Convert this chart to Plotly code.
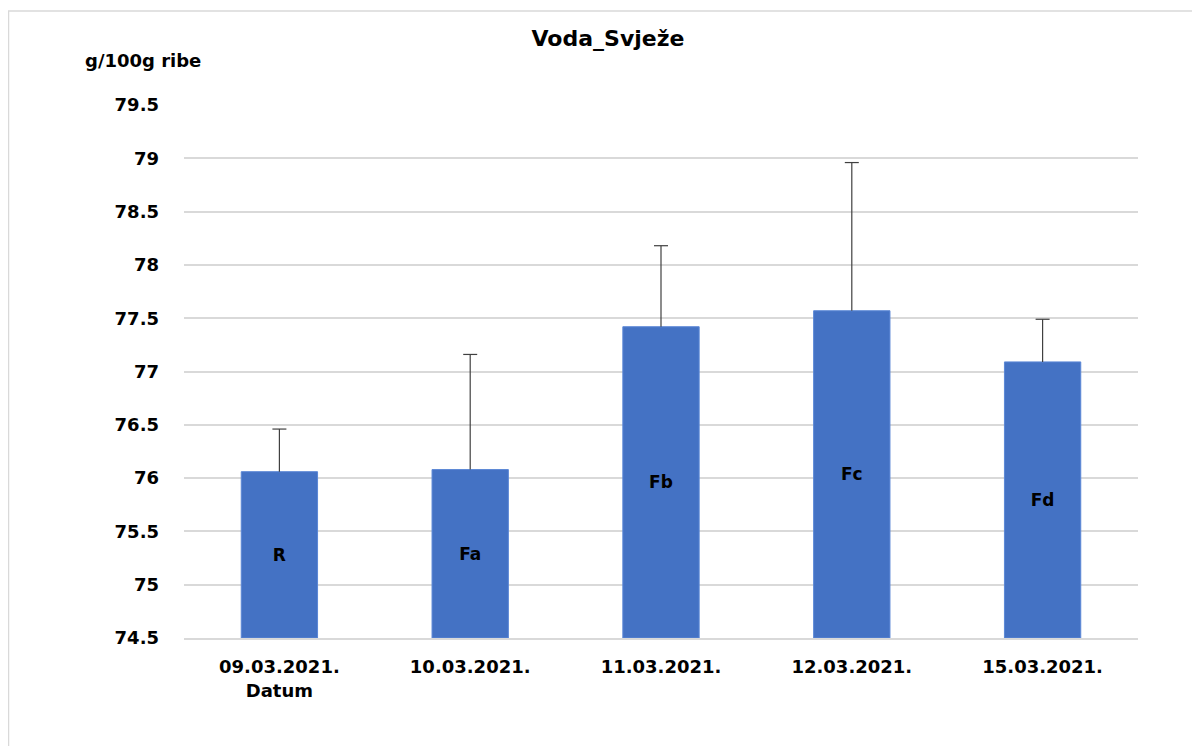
import plotly.graph_objects as go

categories = ["09.03.2021.<br>Datum", "10.03.2021.", "11.03.2021.", "12.03.2021.", "15.03.2021."]
values = [76.06, 76.08, 77.42, 77.57, 77.09]
errors_plus = [0.40, 1.08, 0.76, 1.39, 0.40]
bar_labels = ["R", "Fa", "Fb", "Fc", "Fd"]
y_ticks = [74.5, 75, 75.5, 76, 76.5, 77, 77.5, 78, 78.5, 79, 79.5]
y_tick_text = ["74.5", "75", "75.5", "76", "76.5", "77", "77.5", "78", "78.5", "79", "79.5"]
axis_base = 74.5

FONT = "DejaVu Sans"
OFF = 8  # page body margin offset

L, T, W, H = 184 - OFF, 105 - OFF, 954, 533
R = 1200 - L - W
B = 746 - T - H

fig = go.Figure()
fig.add_trace(go.Bar(
    x=categories,
    y=[v - axis_base for v in values],
    base=axis_base,
    marker=dict(color="#4472C4", line=dict(color="#5B87D6", width=1)),
    text=bar_labels,
    textposition="inside",
    insidetextanchor="middle",
    textangle=0,
    textfont=dict(family=FONT, size=17, color="black", weight="bold"),
    error_y=dict(type="data", symmetric=False, array=errors_plus,
                 arrayminus=[0] * len(values), color="#404040", thickness=1.2, width=0),
    hoverinfo="skip",
))
# caps on top of the error bars only
fig.add_trace(go.Scatter(
    x=categories,
    y=[v + e for v, e in zip(values, errors_plus)],
    mode="markers",
    marker=dict(symbol="line-ew", size=10, line=dict(color="#404040", width=1.2)),
    hoverinfo="skip",
))

fig.update_layout(
    width=1200, height=746,
    margin=dict(l=L, r=R, t=T, b=B),
    paper_bgcolor="white", plot_bgcolor="white",
    bargap=0.6,
    showlegend=False,
    title=dict(text="<b>Voda_Svježe</b>", x=(608 - OFF) / 1200, xanchor="center",
               y=1 - (38 - OFF) / 746, yanchor="middle",
               font=dict(family=FONT, size=22, color="black")),
    font=dict(family=FONT, color="black"),
)

fig.update_yaxes(
    range=[74.5, 79.5],
    tickvals=y_ticks, ticktext=["<b>%s</b>" % t for t in y_tick_text],
    tickfont=dict(family=FONT, size=18, color="black"),
    showgrid=True, gridcolor="#D9D9D9", gridwidth=1.5,
    zeroline=False, showline=False, ticks="",
    ticklabelstandoff=24,
)
fig.update_xaxes(
    tickvals=categories,
    ticktext=["<b>%s</b>" % c for c in categories],
    tickfont=dict(family=FONT, size=18, color="black"),
    showline=True, linecolor="#D9D9D9", linewidth=1.5,
    ticks="", ticklabelstandoff=12,
)

fig.add_annotation(
    text="<b>g/100g ribe</b>", xref="paper", yref="paper",
    x=(83 - 184) / W, y=(638 - 60) / H, xanchor="left", yanchor="middle",
    showarrow=False, font=dict(family=FONT, size=18, color="black"),
)

fig.add_shape(
    type="rect", xref="paper", yref="paper",
    x0=(OFF + 0.5 - 184) / W, x1=(1230 - 184) / W,
    y0=(638 - 780) / H, y1=(638 - 11) / H,
    line=dict(color="#D9D9D9", width=1.5), fillcolor="rgba(0,0,0,0)", layer="below",
)

fig.write_html("out.html")
